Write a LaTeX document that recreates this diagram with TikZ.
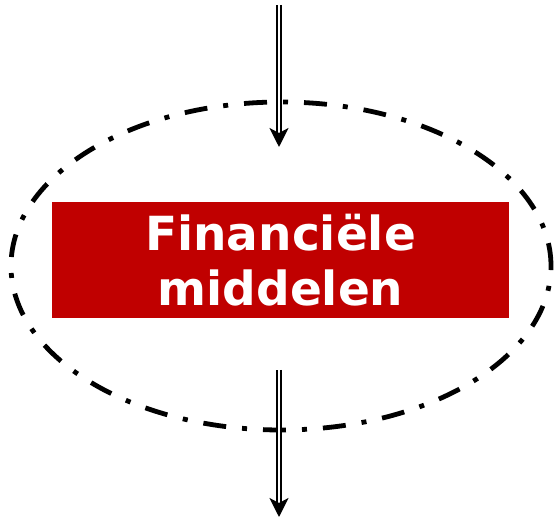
\documentclass[tikz,border=0pt]{standalone}
\usepackage{fontspec}
\newfontfamily\boxfont{DejaVu Sans}
\usetikzlibrary{arrows.meta,shapes.geometric}
\definecolor{boxred}{HTML}{C00000}

\begin{document}
\begin{tikzpicture}[x = 1pt,
                    y = 1pt]
% styles
\tikzset{boundary/.style={ellipse,draw=black,line width=4.8pt,
                          dash pattern=on 23pt off 16pt on 5pt off 16pt,
                          minimum width=540pt,minimum height=328pt,inner sep=0pt},
         resource/.style={fill=boxred,text=white,minimum width=457pt,minimum height=116pt,
                          inner sep=0pt,align=center,
                          font=\boxfont\bfseries\fontsize{47pt}{57pt}\selectfont},
         flow/.style={draw=black,line width=1.6pt,double=white,double distance=2pt,
                      -{Stealth[length=19pt,width=19pt,inset=5pt]}}}
\useasboundingbox (0,0) rectangle (560,519);
% boundary of the system
\node[boundary] (system) at (281,253) {};
% the resource
\node[resource] (middelen) at (280.5,259) {Financiële\\[-2pt]middelen};
% flows in and out
\coordinate (inTop)    at (279,514);
\coordinate (inEnd)    at (279,372);
\coordinate (outStart) at (279,149);
\coordinate (outEnd)   at (279,2);
\draw[flow] (inTop) -- (inEnd);
\draw[flow] (outStart) -- (outEnd);
\end{tikzpicture}
\end{document}
